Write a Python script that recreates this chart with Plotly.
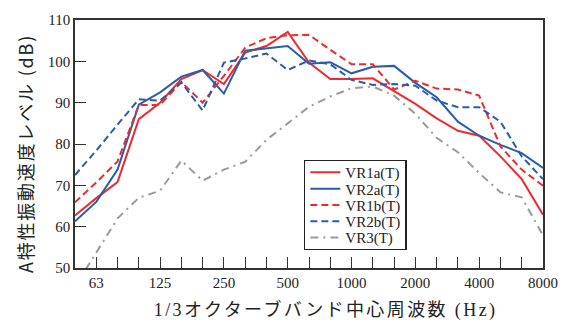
import plotly.graph_objects as go

bands = ["50", "63", "80", "100", "125", "160", "200", "250", "315", "400", "500", "630",
         "800", "1000", "1250", "1600", "2000", "2500", "3150", "4000", "5000", "6300", "8000"]
tick_labels = ["63", "125", "250", "500", "1000", "2000", "4000", "8000"]

vr1a = [62.7, 66.9, 70.8, 86.0, 90.0, 95.7, 97.9, 94.5, 102.1, 103.7, 107.1, 99.7,
        95.7, 95.7, 95.9, 92.9, 89.7, 86.2, 83.2, 82.0, 77.0, 71.5, 62.9]
vr2a = [61.3, 66.0, 73.8, 89.5, 92.5, 96.3, 97.9, 92.2, 102.6, 103.1, 103.7, 99.4,
        99.8, 97.1, 98.7, 98.9, 94.8, 91.3, 85.4, 82.0, 79.8, 77.8, 74.2]
vr1b = [65.9, 70.7, 75.8, 89.4, 89.5, 95.0, 90.0, 96.5, 103.3, 105.6, 106.3, 106.4,
        102.8, 99.3, 99.3, 93.2, 95.3, 93.4, 93.2, 91.7, 79.4, 73.8, 69.9]
vr2b = [72.5, 78.4, 84.7, 90.8, 90.5, 94.9, 88.1, 99.7, 100.7, 101.9, 97.9, 100.2,
        99.3, 95.5, 94.3, 94.5, 94.1, 90.5, 88.9, 88.9, 85.4, 77.0, 71.5]
vr3 = [45.5, 53.6, 62.0, 67.0, 68.7, 76.0, 71.1, 73.8, 75.7, 81.0, 85.0, 89.0,
       91.5, 93.5, 93.9, 91.7, 87.3, 81.5, 78.0, 73.0, 68.3, 67.1, 57.9]

series = [
    ("VR1a(T)", vr1a, "#EE2A2E", "solid"),
    ("VR2a(T)", vr2a, "#2A5CAA", "solid"),
    ("VR1b(T)", vr1b, "#EE2A2E", "7px,4px"),
    ("VR2b(T)", vr2b, "#2A5CAA", "7px,4px"),
    ("VR3(T)", vr3, "#9A9A9A", "8px,5px,2px,5px"),
]

x_title = "1/3オクターブバンド中心周波数 (Hz)"
y_title = "A特性振動速度レベル (dB)"

SERIF = "Liberation Serif, Times New Roman, Noto Sans CJK JP, serif"
SANS = "Noto Sans CJK JP, sans-serif"

fig = go.Figure()
for name, vals, color, dash in series:
    fig.add_trace(go.Scatter(x=bands, y=vals, mode="lines", name=name,
                             line=dict(color=color, width=2, dash=dash)))

fig.update_layout(
    width=570, height=322,
    margin=dict(l=75, r=21, t=17, b=54),
    paper_bgcolor="white", plot_bgcolor="white",
    font=dict(family=SERIF, size=15, color="#222"),
    legend=dict(x=0.489, y=0.436, xanchor="left", yanchor="top",
                bgcolor="white", bordercolor="#222", borderwidth=1.5,
                font=dict(family=SERIF, size=15, color="#222"),
                tracegroupgap=0, itemwidth=30),
    showlegend=True,
    annotations=[
        dict(text=x_title, xref="paper", yref="paper", x=0.535, y=-0.168,
             xanchor="center", yanchor="middle", showarrow=False,
             font=dict(family=SERIF, size=18, color="#222")),
        dict(text=y_title, xref="paper", yref="paper", x=-0.1075, y=0.46,
             xanchor="center", yanchor="middle", showarrow=False, textangle=-90,
             font=dict(family=SANS, size=18, color="#222")),
    ],
)
fig.update_xaxes(
    type="category", range=[0, 22],
    tickmode="array", tickvals=bands,
    ticktext=[b if b in tick_labels else "" for b in bands],
    ticks="inside", ticklen=11, tickwidth=1.2, tickcolor="#333",
    showline=True, linecolor="#333", linewidth=1.5, mirror=True,
    showgrid=False, zeroline=False,
    tickfont=dict(family=SERIF, size=15, color="#222"),
)
fig.update_yaxes(
    range=[50, 110], tickmode="array", tickvals=[50, 60, 70, 80, 90, 100, 110],
    ticks="inside", ticklen=11, tickwidth=1.2, tickcolor="#333",
    showline=True, linecolor="#333", linewidth=1.5, mirror=True,
    showgrid=False, zeroline=False,
    tickfont=dict(family=SERIF, size=15, color="#222"),
)

post = """
var gd = document.getElementById('{plot_id}');
function tweak(){
  var ann = gd.querySelectorAll('.annotation-text');
  if (ann.length > 0) ann[0].style.letterSpacing = '2.4px';
  if (ann.length > 1) ann[1].style.letterSpacing = '1.8px';
  var traces = gd.querySelectorAll('.legend .traces');
  if (!traces.length) return;
  var m = /translate\\(([-\\d.]+)[ ,]+([-\\d.]+)\\)/.exec(traces[0].getAttribute('transform') || '');
  if (!m) return;
  var x0 = parseFloat(m[1]);
  var y0 = 12.5, step = 16.3;
  for (var i = 0; i < traces.length; i++) {
    traces[i].setAttribute('transform', 'translate(' + x0 + ',' + (y0 + i * step) + ')');
  }
  var bg = gd.querySelector('.legend rect.bg');
  if (bg) bg.setAttribute('height', 2 * y0 + (traces.length - 1) * step - 1.5);
}
tweak();
gd.on('plotly_afterplot', tweak);
"""

fig.write_html("out.html", post_script=post)
